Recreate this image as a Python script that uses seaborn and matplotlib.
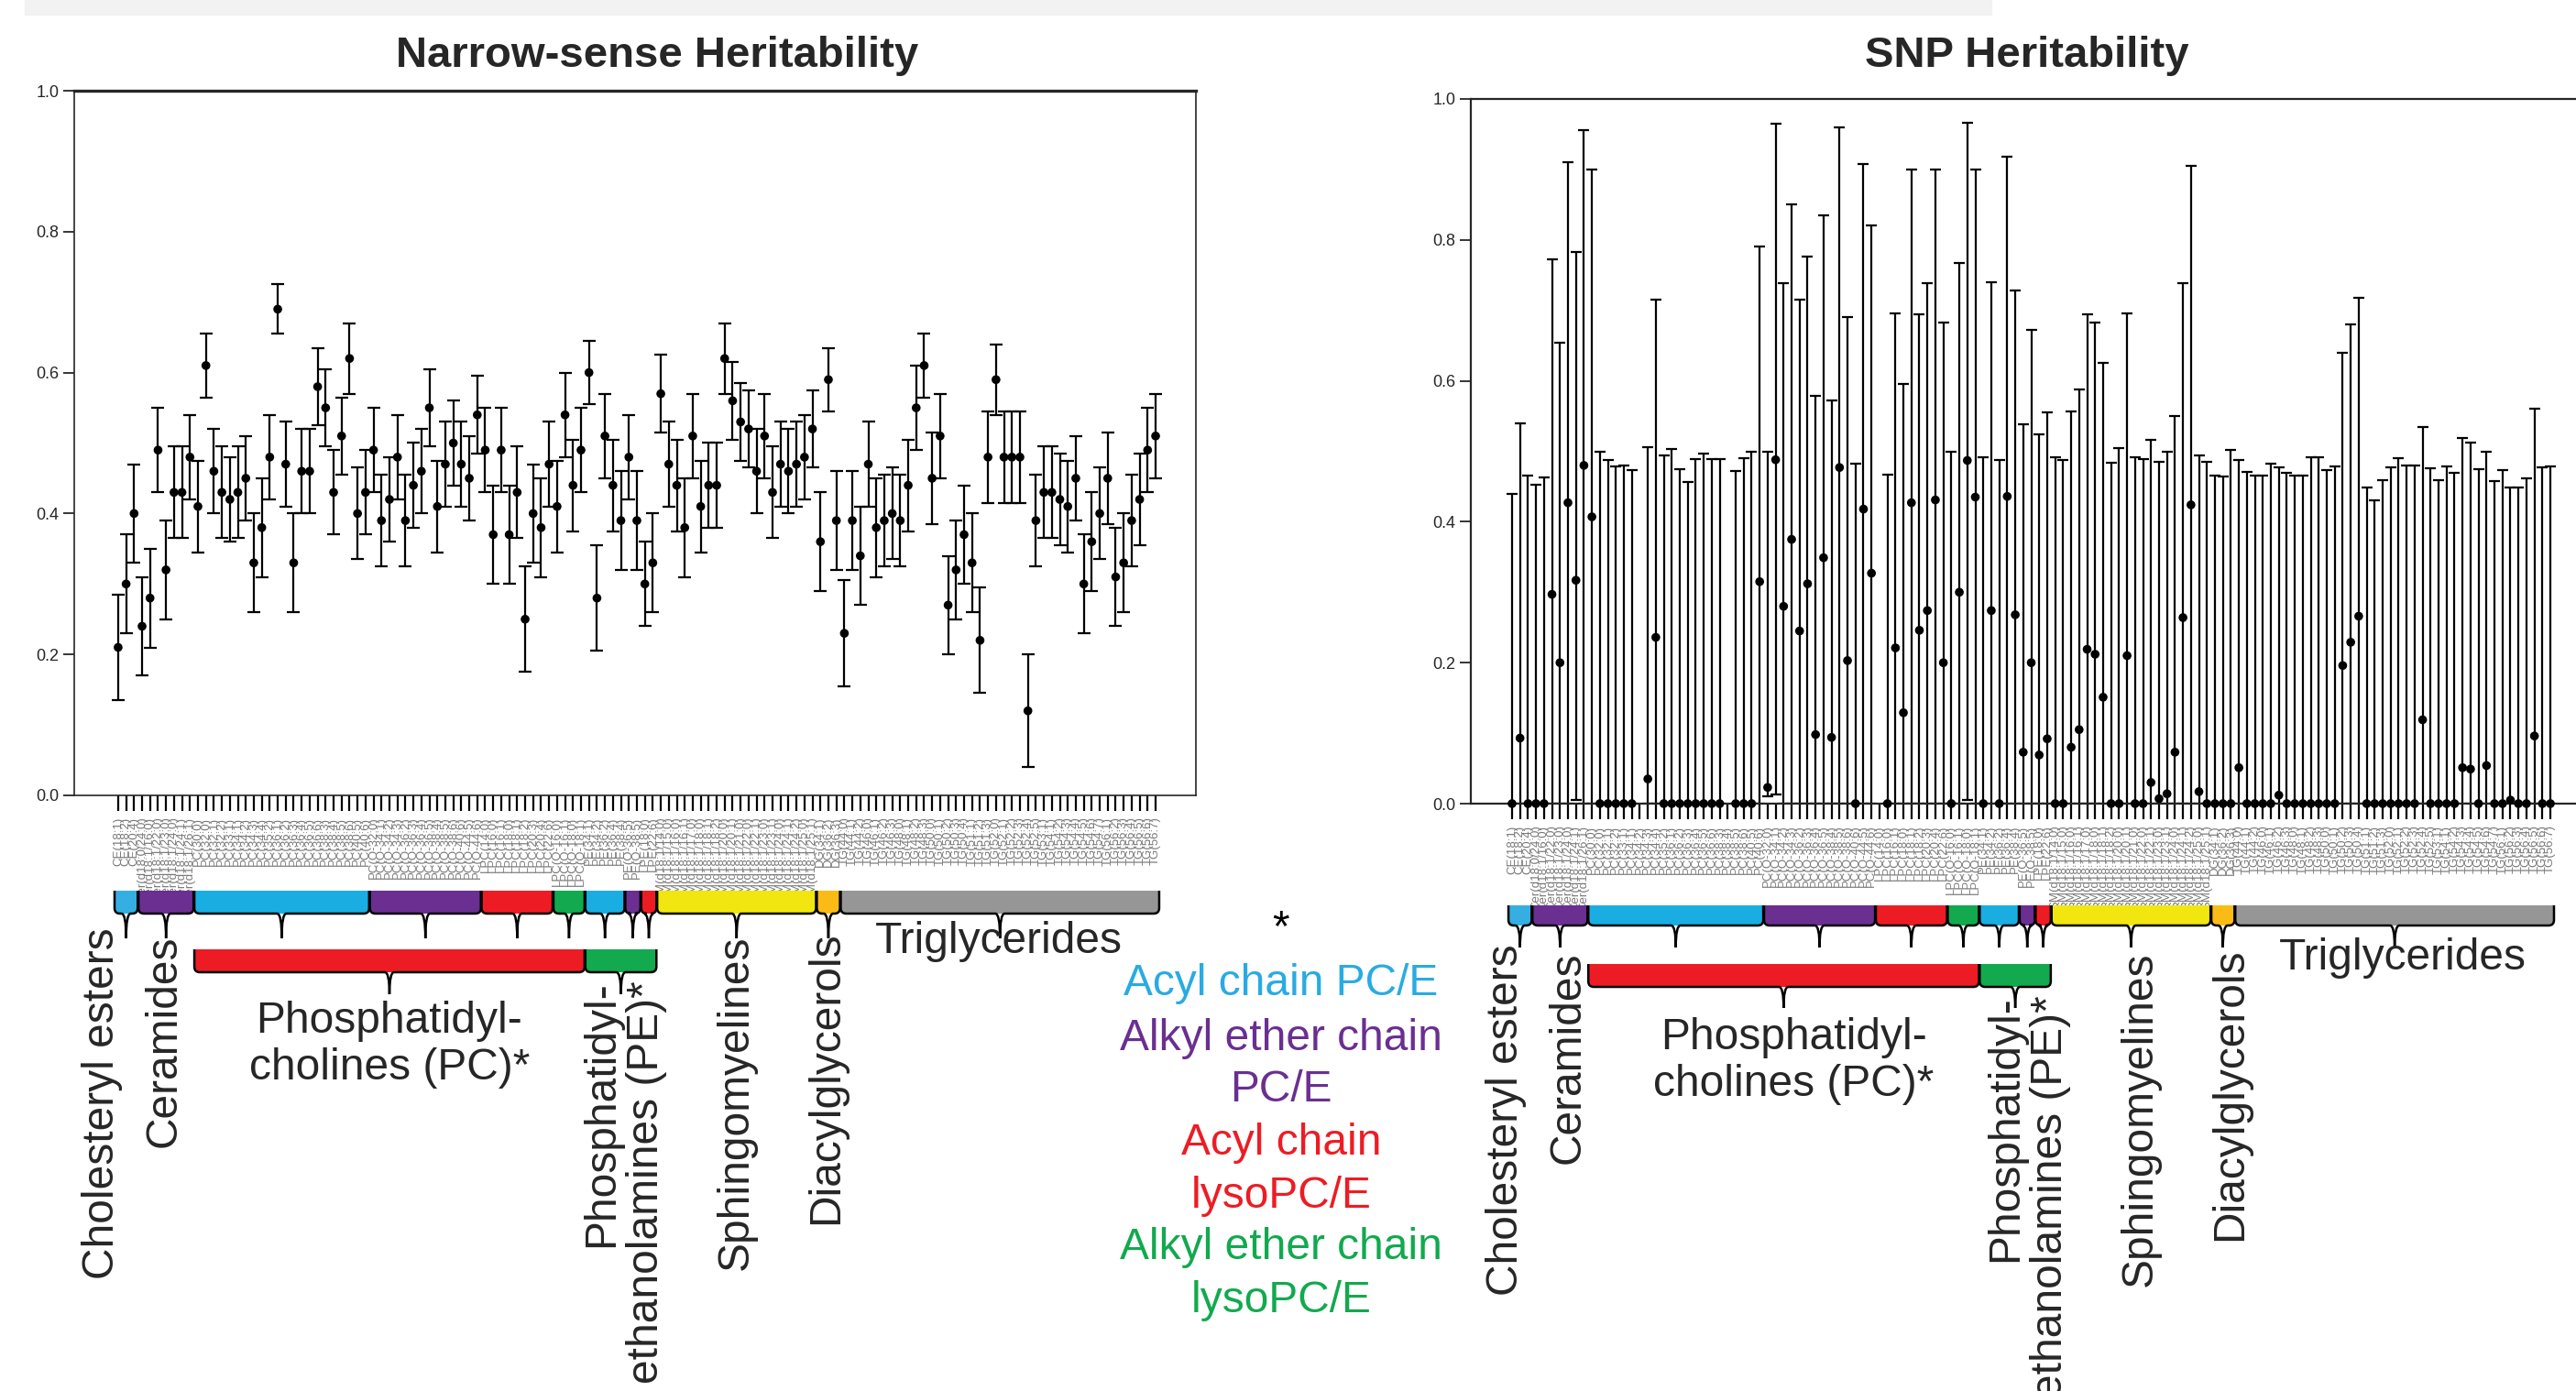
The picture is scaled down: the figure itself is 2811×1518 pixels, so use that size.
import numpy as np
import pandas as pd
import matplotlib
matplotlib.use("Agg")
import matplotlib.pyplot as plt
import seaborn as sns
from matplotlib.path import Path
from matplotlib.patches import PathPatch, Rectangle

sns.set_style("ticks")
plt.rcParams["font.family"] = ["Liberation Sans", "DejaVu Sans"]

nan = np.nan

# ---------------- data ----------------
lipids = (
    ["CE(18:1)", "CE(18:2)", "CE(20:4)"]
    + ["Cer(d18:0/24:0)", "Cer(d18:1/16:0)", "Cer(d18:1/22:0)", "Cer(d18:1/23:0)",
       "Cer(d18:1/24:0)", "Cer(d18:1/24:1)", "Cer(d18:1/26:1)"]
    + ["PC(30:0)", "PC(32:0)", "PC(32:1)", "PC(32:2)", "PC(33:1)", "PC(34:1)", "PC(34:2)",
       "PC(34:3)", "PC(34:4)", "PC(35:2)", "PC(36:1)", "PC(36:2)", "PC(36:3)", "PC(36:4)",
       "PC(36:5)", "PC(36:6)", "PC(38:3)", "PC(38:4)", "PC(38:5)", "PC(38:6)", "PC(40:5)", "PC(40:6)"]
    + ["PC(O-32:0)", "PC(O-34:1)", "PC(O-34:2)", "PC(O-34:3)", "PC(O-36:2)", "PC(O-36:3)",
       "PC(O-36:4)", "PC(O-36:5)", "PC(O-38:4)", "PC(O-38:5)", "PC(O-38:6)", "PC(O-40:6)",
       "PC(O-44:5)", "PC(O-44:6)"]
    + ["LPC(14:0)", "LPC(16:0)", "LPC(16:1)", "LPC(18:0)", "LPC(18:1)", "LPC(18:2)",
       "LPC(20:3)", "LPC(20:4)", "LPC(22:6)"]
    + ["LPC(O-16:0)", "LPC(O-16:1)", "LPC(O-18:0)", "LPC(O-18:1)"]
    + ["PE(34:1)", "PE(34:2)", "PE(36:2)", "PE(36:4)", "PE(38:4)"]
    + ["PE(O-36:5)", "PE(O-38:5)"]
    + ["LPE(18:0)", "LPE(22:6)"]
    + ["SM(d18:1/14:0)", "SM(d18:1/15:0)", "SM(d18:1/16:0)", "SM(d18:1/16:1)", "SM(d18:1/17:0)",
       "SM(d18:1/18:0)", "SM(d18:1/18:1)", "SM(d18:1/18:2)", "SM(d18:1/20:0)", "SM(d18:1/20:1)",
       "SM(d18:1/21:0)", "SM(d18:1/22:0)", "SM(d18:1/22:1)", "SM(d18:1/23:0)", "SM(d18:1/23:1)",
       "SM(d18:1/24:0)", "SM(d18:1/24:1)", "SM(d18:1/24:2)", "SM(d18:1/25:0)", "SM(d18:1/25:1)"]
    + ["DG(34:1)", "DG(36:2)", "DG(36:3)"]
    + ["TG(44:0)", "TG(44:1)", "TG(44:2)", "TG(46:0)", "TG(46:1)", "TG(46:2)", "TG(46:3)",
       "TG(48:0)", "TG(48:1)", "TG(48:2)", "TG(48:3)", "TG(50:0)", "TG(50:1)", "TG(50:2)",
       "TG(50:3)", "TG(50:4)", "TG(51:1)", "TG(51:2)", "TG(51:3)", "TG(52:0)", "TG(52:1)",
       "TG(52:2)", "TG(52:3)", "TG(52:4)", "TG(52:5)", "TG(53:1)", "TG(54:1)", "TG(54:2)",
       "TG(54:3)", "TG(54:4)", "TG(54:5)", "TG(54:6)", "TG(54:7)", "TG(56:1)", "TG(56:2)",
       "TG(56:3)", "TG(56:4)", "TG(56:5)", "TG(56:6)", "TG(56:7)"]
)

# lipid classes: (first index, last index, colour)
class_first = [0, 3, 10, 32, 46, 55, 59, 64, 66, 68, 88, 91]
class_last = [2, 9, 31, 45, 54, 58, 63, 65, 67, 87, 90, 130]
class_colors = ["#35aee2", "#6a2f91", "#19ade2", "#6a2f91", "#ed1c24", "#12a94f",
                "#19ade2", "#6a2f91", "#ed1c24", "#f1e60f", "#fbbb17", "#969696"]
super_first = [10, 59]
super_last = [58, 67]
super_colors = ["#ed1c24", "#12a94f"]

# narrow-sense heritability (estimate and half-width of the error bar)
h2 = [0.21, 0.30, 0.40, 0.24, 0.28, 0.49, 0.32, 0.43, 0.43, 0.48,
      0.41, 0.61, 0.46, 0.43, 0.42, 0.43, 0.45, 0.33, 0.38, 0.48,
      0.69, 0.47, 0.33, 0.46, 0.46, 0.58, 0.55, 0.43, 0.51, 0.62,
      0.40, 0.43, 0.49, 0.39, 0.42, 0.48, 0.39, 0.44, 0.46, 0.55,
      0.41, 0.47, 0.50, 0.47, 0.45, 0.54, 0.49, 0.37, 0.49, 0.37,
      0.43, 0.25, 0.40, 0.38, 0.47, 0.41, 0.54, 0.44, 0.49, 0.60,
      0.28, 0.51, 0.44, 0.39, 0.48, 0.39, 0.30, 0.33, 0.57, 0.47,
      0.44, 0.38, 0.51, 0.41, 0.44, 0.44, 0.62, 0.56, 0.53, 0.52,
      0.46, 0.51, 0.43, 0.47, 0.46, 0.47, 0.48, 0.52, 0.36, 0.59,
      0.39, 0.23, 0.39, 0.34, 0.47, 0.38, 0.39, 0.40, 0.39, 0.44,
      0.55, 0.61, 0.45, 0.51, 0.27, 0.32, 0.37, 0.33, 0.22, 0.48,
      0.59, 0.48, 0.48, 0.48, 0.12, 0.39, 0.43, 0.43, 0.42, 0.41,
      0.45, 0.30, 0.36, 0.40, 0.45, 0.31, 0.33, 0.39, 0.42, 0.49,
      0.51]
h2_err = [0.075, 0.07, 0.07, 0.07, 0.07, 0.06, 0.07, 0.065, 0.065, 0.06,
          0.065, 0.045, 0.06, 0.065, 0.06, 0.065, 0.06, 0.07, 0.07, 0.06,
          0.035, 0.06, 0.07, 0.06, 0.06, 0.055, 0.055, 0.06, 0.055, 0.05,
          0.065, 0.06, 0.06, 0.065, 0.06, 0.06, 0.065, 0.06, 0.06, 0.055,
          0.065, 0.06, 0.06, 0.06, 0.06, 0.055, 0.06, 0.07, 0.06, 0.07,
          0.065, 0.075, 0.07, 0.07, 0.06, 0.065, 0.06, 0.065, 0.06, 0.045,
          0.075, 0.06, 0.065, 0.07, 0.06, 0.07, 0.06, 0.07, 0.055, 0.06,
          0.065, 0.07, 0.06, 0.065, 0.06, 0.06, 0.05, 0.055, 0.055, 0.055,
          0.06, 0.06, 0.065, 0.06, 0.06, 0.06, 0.06, 0.055, 0.07, 0.045,
          0.07, 0.075, 0.07, 0.07, 0.06, 0.07, 0.065, 0.065, 0.065, 0.065,
          0.06, 0.045, 0.065, 0.06, 0.07, 0.07, 0.07, 0.07, 0.075, 0.065,
          0.05, 0.065, 0.065, 0.065, 0.08, 0.065, 0.065, 0.065, 0.065, 0.065,
          0.06, 0.07, 0.07, 0.065, 0.065, 0.07, 0.07, 0.065, 0.065, 0.06,
          0.06]

# SNP heritability (estimate, lower and upper bound of the error bar)
snp = [0, 0.093, 0, 0, 0, 0.297, 0.20, 0.427, 0.317, 0.48,
       0.407, 0, 0, 0, 0, 0, nan, 0.035, 0.236, 0,
       0, 0, 0, 0, 0, 0, 0, nan, 0, 0,
       0, 0.315, 0.023, 0.488, 0.28, 0.375, 0.245, 0.312, 0.098, 0.349,
       0.094, 0.477, 0.203, 0, 0.418, 0.327, nan, 0, 0.221, 0.129,
       0.427, 0.246, 0.274, 0.431, 0.20, 0, 0.30, 0.487, 0.435, 0,
       0.274, 0, 0.436, 0.268, 0.073, 0.20, 0.069, 0.092, 0, 0,
       0.08, 0.105, 0.219, 0.212, 0.151, 0, 0, 0.21, 0, 0,
       0.03, 0.007, 0.014, 0.073, 0.264, 0.424, 0.017, 0, 0, 0,
       0, 0.051, 0, 0, 0, 0, 0.012, 0, 0, 0,
       0, 0, 0, 0, 0.196, 0.229, 0.266, 0, 0, 0,
       0, 0, 0, 0, 0.119, 0, 0, 0, 0, 0.051,
       0.049, 0, 0.054, 0, 0, 0.005, 0, 0, 0.096, 0,
       0]
snp_hi = [0.44, 0.54, 0.465, 0.453, 0.463, 0.772, 0.654, 0.91, 0.783, 0.956,
          0.90, 0.50, 0.487, 0.478, 0.48, 0.473, nan, 0.506, 0.715, 0.494,
          0.503, 0.475, 0.457, 0.489, 0.497, 0.489, 0.489, nan, 0.472, 0.49,
          0.50, 0.79, 0.50, 0.965, 0.739, 0.85, 0.715, 0.776, 0.579, 0.835,
          0.572, 0.96, 0.69, 0.482, 0.908, 0.82, nan, 0.467, 0.696, 0.596,
          0.90, 0.694, 0.738, 0.90, 0.683, 0.50, 0.767, 0.966, 0.90, 0.492,
          0.74, 0.487, 0.918, 0.728, 0.538, 0.672, 0.524, 0.555, 0.492, 0.488,
          0.557, 0.588, 0.694, 0.683, 0.625, 0.484, 0.505, 0.696, 0.492, 0.489,
          0.516, 0.485, 0.50, 0.55, 0.738, 0.905, 0.494, 0.485, 0.465, 0.464,
          0.502, 0.488, 0.471, 0.465, 0.465, 0.482, 0.477, 0.469, 0.465, 0.465,
          0.492, 0.492, 0.473, 0.478, 0.64, 0.68, 0.718, 0.448, 0.431, 0.459,
          0.477, 0.49, 0.48, 0.48, 0.535, 0.476, 0.459, 0.479, 0.47, 0.519,
          0.513, 0.475, 0.50, 0.458, 0.473, 0.448, 0.448, 0.462, 0.56, 0.477,
          0.478]
snp_lo = [0, 0, 0, 0, 0, 0, 0, 0, 0.005, 0,
          0, 0, 0, 0, 0, 0, nan, 0, 0, 0,
          0, 0, 0, 0, 0, 0, 0, nan, 0, 0,
          0, 0, 0.011, 0.013, 0, 0, 0, 0, 0, 0,
          0, 0, 0, 0, 0, 0, nan, 0, 0, 0,
          0, 0, 0, 0, 0, 0, 0, 0.005, 0, 0,
          0, 0, 0, 0, 0, 0, 0, 0, 0, 0,
          0, 0, 0, 0, 0, 0, 0, 0, 0, 0,
          0, 0, 0, 0, 0, 0, 0, 0, 0, 0,
          0, 0, 0, 0, 0, 0, 0, 0, 0, 0,
          0, 0, 0, 0, 0, 0, 0, 0, 0, 0,
          0, 0, 0, 0, 0, 0, 0, 0, 0, 0,
          0, 0, 0, 0, 0, 0, 0, 0, 0, 0,
          0]

yticks = [0.0, 0.2, 0.4, 0.6, 0.8, 1.0]
ytick_labels = ["0.0", "0.2", "0.4", "0.6", "0.8", "1.0"]

# ---------------- figure ----------------
W, H = 2811, 1518
fig = plt.figure(figsize=(W / 100, H / 100), dpi=100)
fig.patches.append(Rectangle((27 / W, 1 - 16 / H), (2173 - 27) / W, 16 / H,
                             transform=fig.transFigure, color="#f2f2f2", zorder=0))

NARROW = ["Liberation Sans Narrow", "Liberation Sans", "DejaVu Sans"]


def fbox(x0, y0, x1, y1):
    return [x0 / W, 1 - y1 / H, (x1 - x0) / W, (y1 - y0) / H]


def ftext(x, y, s, **kw):
    fig.text(x / W, 1 - y / H, s, **kw)


idx = np.arange(len(lipids))
df = pd.DataFrame({"lipid": lipids, "i": idx, "h2": h2, "h2_err": h2_err,
                   "snp": snp, "snp_lo": snp_lo, "snp_hi": snp_hi})


def style_axes(ax, xlim):
    ax.set_xlim(*xlim)
    ax.set_ylim(0, 1.0)
    ax.set_yticks(yticks)
    ax.set_yticklabels(ytick_labels, family=NARROW, fontsize=13)
    ax.set_xticks(df["i"])
    ax.set_xticklabels(df["lipid"], rotation=90, fontsize=9.5, color="#7a7a7a", family=NARROW)
    ax.tick_params(axis="x", length=12, width=1.6, pad=5, color="black")
    ax.tick_params(axis="y", length=9, width=1.3, pad=3)
    ax.set_xlabel("")
    ax.set_ylabel("")
    ax.grid(False)


# ---- left panel: narrow-sense heritability
axL = fig.add_axes(fbox(81, 99, 1305, 868))
axL.errorbar(df["i"], df["h2"], yerr=df["h2_err"], fmt="none", ecolor="black",
             elinewidth=1.6, capsize=5, capthick=1.6, zorder=2)
sns.scatterplot(data=df, x="i", y="h2", ax=axL, color="black", s=48,
                edgecolor="none", zorder=3, legend=False)
style_axes(axL, (-5.5, 135.05))
for side in ["left", "right", "bottom"]:
    axL.spines[side].set_linewidth(1.2)
axL.spines["top"].set_linewidth(2.4)
ftext(717, 61, "Narrow-sense Heritability", ha="center", va="center",
      fontsize=34, fontweight="bold")

# ---- right panel: SNP heritability
axR = fig.add_axes(fbox(1605, 108, 2831, 877))
dr = df.dropna(subset=["snp"])
axR.errorbar(dr["i"], dr["snp"], yerr=[dr["snp"] - dr["snp_lo"], dr["snp_hi"] - dr["snp"]],
             fmt="none", ecolor="black", elinewidth=1.6, capsize=4.2, capthick=1.6, zorder=2)
sns.scatterplot(data=dr, x="i", y="snp", ax=axR, color="black", s=48,
                edgecolor="none", zorder=3, legend=False, clip_on=False)
style_axes(axR, (-5.16, 135.5))
for side in ["left", "bottom", "top"]:
    axR.spines[side].set_linewidth(1.6)
ftext(2212, 61, "SNP Heritability", ha="center", va="center",
      fontsize=34, fontweight="bold")


# ---------------- class braces ----------------
def brace(ax, x0, x1, top, bot, tip, color, px):
    rx = 6 / px
    sx = 5 / px
    r = 6
    xc = (x0 + x1) / 2
    fill = Path([(x0, top), (x0, bot - r), (x0, bot), (x0 + rx, bot),
                 (x1 - rx, bot), (x1, bot), (x1, bot - r), (x1, top), (x0, top)],
                [Path.MOVETO, Path.LINETO, Path.CURVE3, Path.CURVE3,
                 Path.LINETO, Path.CURVE3, Path.CURVE3, Path.LINETO, Path.CLOSEPOLY])
    ax.add_patch(PathPatch(fill, facecolor=color, edgecolor="none", zorder=1))
    outline = Path([(x0, top), (x0, bot - r), (x0, bot), (x0 + rx, bot),
                    (xc - sx, bot), (xc, bot), (xc, tip), (xc, bot), (xc + sx, bot),
                    (x1 - rx, bot), (x1, bot), (x1, bot - r), (x1, top)],
                   [Path.MOVETO, Path.LINETO, Path.CURVE3, Path.CURVE3,
                    Path.LINETO, Path.CURVE3, Path.CURVE3, Path.CURVE3, Path.CURVE3,
                    Path.LINETO, Path.CURVE3, Path.CURVE3, Path.LINETO])
    ax.add_patch(PathPatch(outline, facecolor="none", edgecolor="black", lw=1.8, zorder=2))


def class_axes(xbox, xlim, ytop, ybot, lvl1, lvl2, px):
    axb = fig.add_axes(fbox(xbox[0], ytop, xbox[1], ybot))
    axb.set_xlim(*xlim)
    axb.set_ylim(ybot, ytop)
    axb.axis("off")
    for a, b, c in zip(class_first, class_last, class_colors):
        brace(axb, a - 0.45, b + 0.45, *lvl1, c, px)
    for a, b, c in zip(super_first, super_last, super_colors):
        brace(axb, a - 0.45, b + 0.45, *lvl2, c, px)


class_axes((81, 1305), (-5.5, 135.05), 960, 1095, (972, 997, 1024), (1036, 1061, 1085), 8.71)
class_axes((1605, 2831), (-5.16, 135.5), 975, 1110, (988, 1010, 1034), (1052, 1077, 1100), 8.715)

# ---------------- class names ----------------
fs = 34.5
def class_labels(dx, dy, pe_top):
    ftext(111 + dx, 1012 + dy, "Cholesteryl esters", rotation=90, ha="center", va="top", fontsize=fs)
    ftext(179 + dx, 1020 + dy, "Ceramides", rotation=90, ha="center", va="top", fontsize=fs)
    ftext(425 + dx, 1140 + dy, "Phosphatidyl-\ncholines (PC)*", ha="center", va="center",
          fontsize=fs, linespacing=1.18)
    ftext(681 + dx, pe_top, "Phosphatidyl-\nethanolamines (PE)*", rotation=90, ha="center",
          va="top", multialignment="right", fontsize=fs, linespacing=1.1)
    ftext(803 + dx, 1020 + dy, "Sphingomyelines", rotation=90, ha="center", va="top", fontsize=fs)
    ftext(902 + dx, 1016 + dy, "Diacylglycerols", rotation=90, ha="center", va="top", fontsize=fs)
    ftext(1090 + dx, 1028 + dy, "Triglycerides", ha="center", va="center", fontsize=fs)


class_labels(0, 0, 1070)
class_labels(1532, 18, 1086)

# ---------------- colour key ----------------
key_lines = [("*", "black", 1014), ("Acyl chain PC/E", "#29abe2", 1074),
             ("Alkyl ether chain", "#6a2f91", 1133), ("PC/E", "#6a2f91", 1189),
             ("Acyl chain", "#ed1c24", 1248), ("lysoPC/E", "#ed1c24", 1305),
             ("Alkyl ether chain", "#12a94f", 1362), ("lysoPC/E", "#12a94f", 1420)]
for s, c, y in key_lines:
    ftext(1398, y, s, ha="center", va="center", fontsize=fs, color=c)

fig.savefig("out.png", dpi=100)
